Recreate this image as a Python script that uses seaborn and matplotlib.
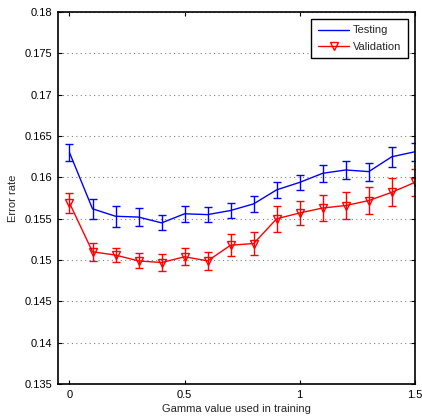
import numpy as np
import pandas as pd
import seaborn as sns
import matplotlib.pyplot as plt

gamma = [0.0, 0.1, 0.2, 0.3, 0.4, 0.5, 0.6, 0.7, 0.8, 0.9, 1.0, 1.1, 1.2, 1.3, 1.4, 1.5]
testing = [0.1630, 0.1562, 0.1553, 0.1552, 0.1545, 0.1556, 0.1555, 0.1560, 0.1568,
           0.1585, 0.1594, 0.1605, 0.1609, 0.1607, 0.1625, 0.1631]
testing_err = [0.00105, 0.0012, 0.0013, 0.0011, 0.0009, 0.0010, 0.00095, 0.0009, 0.0010,
               0.0010, 0.00095, 0.0010, 0.00105, 0.0011, 0.0012, 0.0011]
validation = [0.1569, 0.1510, 0.1506, 0.1499, 0.1497, 0.1504, 0.1499, 0.1518, 0.1520,
              0.1550, 0.1557, 0.1563, 0.1566, 0.1572, 0.1582, 0.1594]
validation_err = [0.0012, 0.0011, 0.00085, 0.0009, 0.0010, 0.00105, 0.0011, 0.0013, 0.0014,
                  0.0016, 0.00145, 0.0016, 0.0016, 0.0016, 0.0017, 0.0016]

df = pd.DataFrame({"gamma": gamma, "Testing": testing, "Validation": validation})

sns.set_style("ticks")
plt.rcParams['font.family'] = ['Liberation Sans', 'DejaVu Sans']
plt.rcParams['xtick.direction'] = 'in'
plt.rcParams['ytick.direction'] = 'in'
fs = 8

fig = plt.figure(figsize=(4.22, 4.17), dpi=100)
ax = fig.add_axes([0.1374, 0.079, 0.8456, 0.892])

#error bars first, lines on top
ax.errorbar(df.gamma, df.Testing, yerr=testing_err, fmt='none', ecolor='#0000ff',
            elinewidth=1, capsize=3, capthick=1)
ax.errorbar(df.gamma, df.Validation, yerr=validation_err, fmt='none', ecolor='#ff0000',
            elinewidth=1, capsize=3, capthick=1)
sns.lineplot(data=df, x="gamma", y="Testing", color='#0000ff', lw=1, label='Testing', ax=ax)
sns.lineplot(data=df, x="gamma", y="Validation", color='#ff0000', lw=1, marker='v',
             markersize=6, markerfacecolor='none', markeredgecolor='#ff0000',
             markeredgewidth=1, label='Validation', ax=ax)

ax.set_xlim(-0.05, 1.5)
ax.set_ylim(0.135, 0.18)
ax.set_xticks([0, 0.5, 1, 1.5])
ax.set_xticklabels(['0', '0.5', '1', '1.5'])
yt = np.arange(0.135, 0.1801, 0.005)
ax.set_yticks(yt)
ax.set_yticklabels([f'{v:g}' for v in np.round(yt, 3)])
ax.tick_params(labelsize=fs, length=3, width=0.8, top=True, right=True, colors='black', pad=4)
ax.yaxis.grid(True, linestyle=(0, (1, 3)), color='#808080', lw=0.8)
ax.xaxis.grid(False)
for s in ax.spines.values():
    s.set_visible(True)
    s.set_linewidth(1.2)
    s.set_color('black')

ax.set_xlabel('Gamma value used in training', fontsize=fs, labelpad=3)
ax.set_ylabel('Error rate', fontsize=fs, labelpad=5)

leg = ax.legend(loc='upper right', fontsize=fs, frameon=True, fancybox=False,
                edgecolor='black', framealpha=1, handlelength=2.8, borderpad=0.6,
                labelspacing=0.55, handletextpad=0.35, borderaxespad=0.6)
leg.get_frame().set_linewidth(1)

plt.savefig("out.png", dpi=100)
